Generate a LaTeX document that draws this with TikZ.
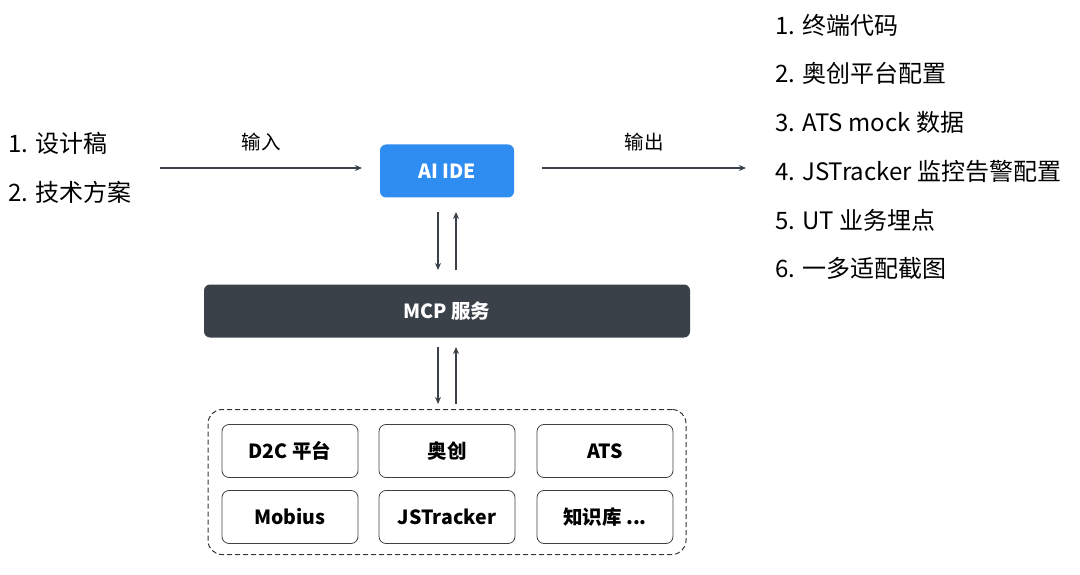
\documentclass[tikz,border=0pt]{standalone}
\usepackage{fontspec}
\setmainfont{Noto Sans CJK SC}
\usetikzlibrary{arrows.meta}
\definecolor{blue1}{HTML}{2F8CF0}
\definecolor{dark}{HTML}{3A4149}
\definecolor{ln}{HTML}{3A4149}
\begin{document}
\begin{tikzpicture}[x=1pt,y=-1pt,
  arr/.style={draw=ln,line width=1.1pt,-{Stealth[length=7pt,width=6pt]}},
  lst/.style={anchor=west,font=\fontsize{24}{28}\selectfont,inner sep=0},
  lab/.style={font=\fontsize{19.5}{22}\selectfont,inner sep=0},
  sb/.style={draw=black!75,line width=0.8pt,rounded corners=7pt,minimum width=136pt,minimum height=53pt,font=\fontsize{19.5}{23}\selectfont\bfseries}]
\useasboundingbox (0,0) rectangle (1080,575);
\node[lst] (l1) at (8,143) {1. 设计稿};
\node[lst] (l2) at (8,192) {2. 技术方案};
\node[fill=blue1,rounded corners=6pt,minimum width=134pt,minimum height=53pt,text=white,font=\fontsize{19.5}{23}\selectfont\bfseries] (ide) at (447,171) {AI IDE};
\coordinate (inS) at (160,168); \coordinate (inE) at (362,168);
\coordinate (outS) at (542,168); \coordinate (outE) at (746,168);
\draw[arr] (inS) -- (inE) node[lab,midway,above=16pt] {输入};
\draw[arr] (outS) -- (outE) node[lab,midway,above=16pt] {输出};
\node[lst] at (775,25) {1. 终端代码};
\node[lst] at (775,73) {2. 奥创平台配置};
\node[lst] at (775,122) {3. ATS mock 数据};
\node[lst] at (775,171) {4. JSTracker 监控告警配置};
\node[lst] at (775,220) {5. UT 业务埋点};
\node[lst] at (775,268) {6. 一多适配截图};
\node[fill=dark,rounded corners=6pt,minimum width=486pt,minimum height=53pt,text=white,font=\fontsize{19.5}{23}\selectfont\bfseries] (mcp) at (447,311) {MCP 服务};
\coordinate (a1) at (438,212); \coordinate (a2) at (438,270);
\coordinate (b1) at (456,270); \coordinate (b2) at (456,212);
\draw[arr] (a1) -- (a2); \draw[arr] (b1) -- (b2);
\coordinate (c1) at (438,347); \coordinate (c2) at (438,404);
\coordinate (d1) at (456,404); \coordinate (d2) at (456,347);
\draw[arr] (c1) -- (c2); \draw[arr] (d1) -- (d2);
\node[draw=black!80,dash pattern=on 5pt off 3pt,line width=1pt,rounded corners=14pt,minimum width=478pt,minimum height=145pt] (grp) at (447,482) {};
\node[sb] (s1) at (290,451) {D2C 平台};
\node[sb] (s2) at (447,451) {奥创};
\node[sb] (s3) at (605,451) {ATS};
\node[sb] (s4) at (290,517) {Mobius};
\node[sb] (s5) at (447,517) {JSTracker};
\node[sb] (s6) at (605,517) {知识库 ...};
\end{tikzpicture}
\end{document}
